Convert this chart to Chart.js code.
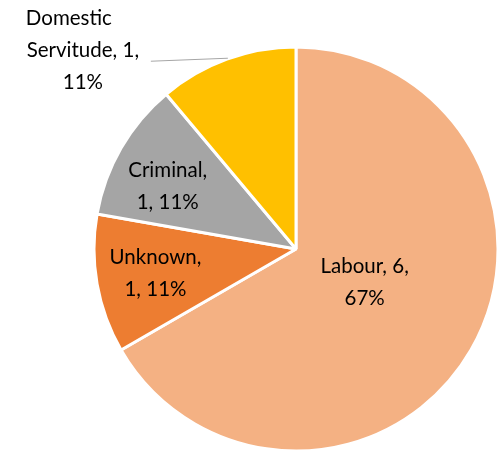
<!DOCTYPE html>
<html><head><meta charset="utf-8">
<script src="https://cdn.jsdelivr.net/npm/chart.js@4/dist/chart.umd.min.js"></script>
<style>html,body{margin:0;padding:0;background:#fff}#wrap{width:499px;height:450px;position:relative}</style>
</head><body><div id="wrap"><canvas id="c"></canvas></div>
<script>
const categories = ["Labour", "Unknown", "Criminal", "Domestic Servitude"];
const values = [6, 1, 1, 1];
const percents = ["67%", "11%", "11%", "11%"];
const colors = ["#F4B183", "#ED7D31", "#A5A5A5", "#FFC000"];
const labelLines = [
  ["Labour, 6,", "67%"],
  ["Unknown,", "1, 11%"],
  ["Criminal,", "1, 11%"],
  ["Domestic", "Servitude, 1,", "11%"]
];
// label placement: [radius factor, angle offset deg]
const placement = [[0.38, -4], [0.71, 0], [0.71, -4], [1.45, -27]];

const labelPlugin = {
  id: 'labels',
  afterDraw(chart) {
    const ctx = chart.ctx;
    const meta = chart.getDatasetMeta(0);
    ctx.save();
    ctx.font = '20.5px Lato, "Open Sans", sans-serif';
    ctx.fillStyle = '#000';
    ctx.textAlign = 'center';
    ctx.textBaseline = 'middle';
    meta.data.forEach((arc, i) => {
      const mid = (arc.startAngle + arc.endAngle) / 2 + placement[i][1] * Math.PI / 180;
      const r = 201 * placement[i][0];
      const cx = arc.x + Math.cos(mid) * r;
      const cy = arc.y + Math.sin(mid) * r;
      const lines = labelLines[i];
      const lh = 32;
      if (i === 3) {
        ctx.strokeStyle = '#A6A6A6';
        ctx.lineWidth = 1;
        ctx.beginPath();
        ctx.moveTo(cx + 68, cy + 11);
        ctx.lineTo(cx + 145, cy + 8);
        ctx.stroke();
        const xs = [-14, 0, 0];
        lines.forEach((t, k) => ctx.fillText(t, cx + xs[k], cy + (k - 1) * lh));
      } else {
        lines.forEach((t, k) => ctx.fillText(t, cx, cy + (k - (lines.length - 1) / 2) * lh));
      }
    });
    ctx.restore();
  }
};

new Chart(document.getElementById('c'), {
  type: 'pie',
  data: {
    labels: categories,
    datasets: [{
      data: values,
      backgroundColor: colors,
      borderColor: '#ffffff',
      borderWidth: 3
    }]
  },
  options: {
    responsive: true,
    maintainAspectRatio: false,
    animation: false,
    radius: 202,
    layout: { padding: { left: 94, right: 1, top: 48, bottom: -2 } },
    plugins: { legend: { display: false }, tooltip: { enabled: false } }
  },
  plugins: [labelPlugin]
});
</script></body></html>
